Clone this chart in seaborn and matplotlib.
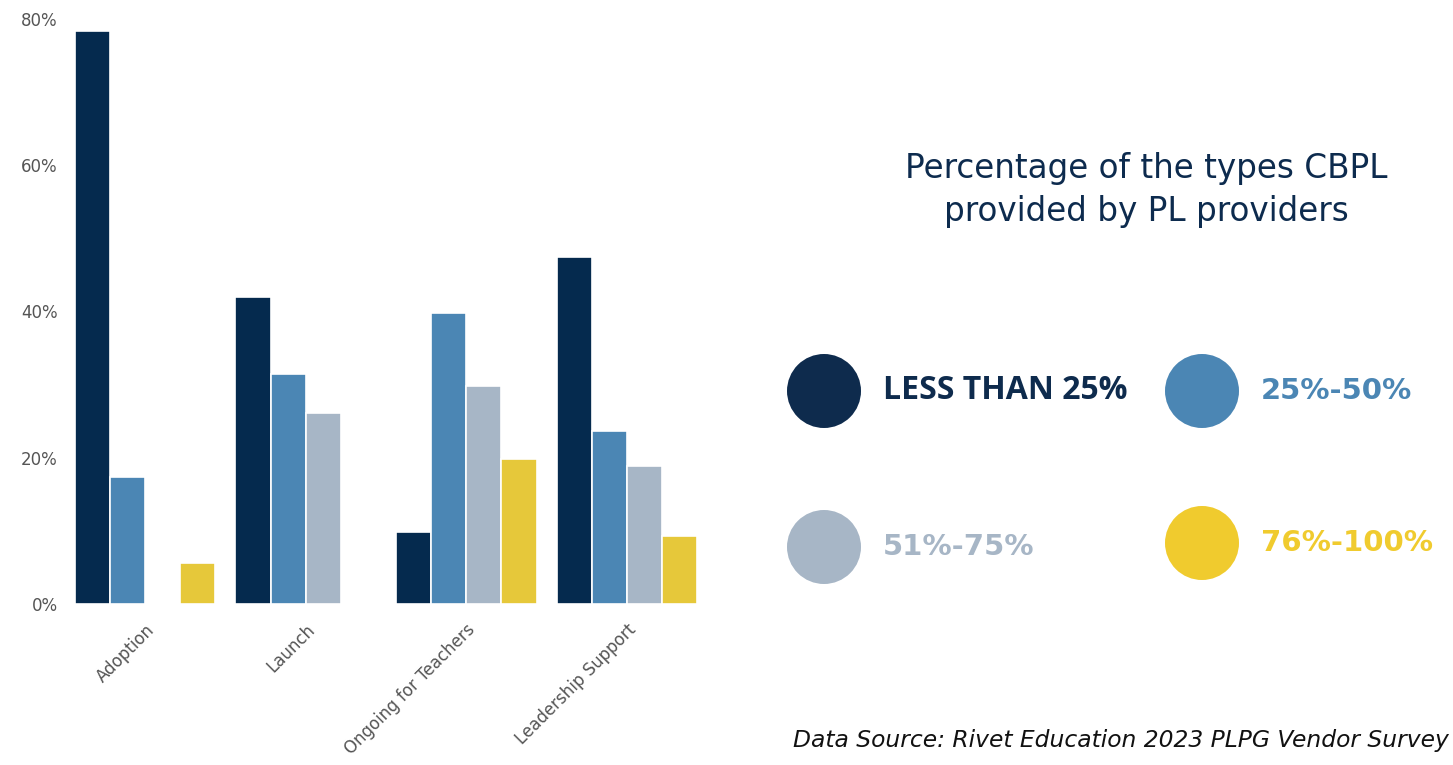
import matplotlib
matplotlib.use("Agg")
import matplotlib.pyplot as plt
from matplotlib.patches import Ellipse
from matplotlib.ticker import FuncFormatter
import seaborn as sns
import pandas as pd

categories = ["Adoption", "Launch", "Ongoing for Teachers", "Leadership Support"]
series_names = ["LESS THAN 25%", "25%-50%", "51%-75%", "76%-100%"]
less_than_25 = [78.4, 42.0, 9.8, 47.5]
pct_25_50 = [17.4, 31.5, 39.8, 23.7]
pct_51_75 = [0.0, 26.1, 29.8, 18.9]
pct_76_100 = [5.6, 0.0, 19.8, 9.3]
yticks = [0, 20, 40, 60, 80]

bar_colors = ["#052a4e", "#4b86b4", "#a7b6c6", "#e6c83a"]
legend_colors = ["#0e2b4d", "#4b86b4", "#a7b6c6", "#f0cb2e"]

rows = []
for name, vals in zip(series_names, [less_than_25, pct_25_50, pct_51_75, pct_76_100]):
    for c, v in zip(categories, vals):
        rows.append({"category": c, "series": name, "value": v})
df = pd.DataFrame(rows)

sns.set_theme(style="white")
plt.rcParams["font.family"] = ["DejaVu Sans"]

fig = plt.figure(figsize=(14.53, 7.65), dpi=100)
ax = fig.add_axes([0.0445, 0.2105, 0.4423, 0.7647])
sns.barplot(data=df, x="category", y="value", hue="series", order=categories,
            hue_order=series_names, palette=bar_colors, width=0.875,
            edgecolor="white", linewidth=1.2, saturation=1, ax=ax, legend=False)
ax.set_xlim(-0.5, 3.5)
ax.set_ylim(0, 80)
ax.set_yticks(yticks)
ax.yaxis.set_major_formatter(FuncFormatter(lambda v, p: f"{int(v)}%"))
ax.tick_params(axis="y", length=0, pad=5, labelsize=12, labelcolor="#555555")
ax.tick_params(axis="x", length=0, pad=12, labelsize=12, labelcolor="#555555")
for lab in ax.get_xticklabels():
    lab.set_rotation(45)
    lab.set_ha("right")
    lab.set_rotation_mode("anchor")
ax.set_xlabel("")
ax.set_ylabel("")
for s in ax.spines.values():
    s.set_visible(False)
ax.grid(False)

fig.text(1146/1453, 1 - 190/765, "Percentage of the types CBPL\nprovided by PL providers",
         ha="center", va="center", fontsize=23.5, color="#0d2b4e", linespacing=1.4,
         family=["DejaVu Sans"])

pos = [(824, 391), (1202, 391), (824, 547), (1202, 543)]
for i, ((cx, cy), col, name) in enumerate(zip(pos, legend_colors, series_names)):
    e = Ellipse((cx/1453, 1 - cy/765), 74/1453, 74/765, transform=fig.transFigure,
                facecolor=col, edgecolor="none")
    fig.patches.append(e)
    if i == 0:
        fam, fs = ["Open Sans", "DejaVu Sans"], 23
    else:
        fam, fs = ["DejaVu Sans"], 21
    fig.text((cx + 59)/1453, 1 - cy/765, name, ha="left", va="center",
             fontsize=fs, fontweight="bold", color=col, family=fam)

fig.text(793/1453, 1 - 740/765, "Data Source: Rivet Education 2023 PLPG Vendor Survey",
         ha="left", va="center", fontsize=16.8, style="italic", color="#111111",
         family=["DejaVu Sans"])

fig.savefig("out.png", dpi=100, facecolor="white")
